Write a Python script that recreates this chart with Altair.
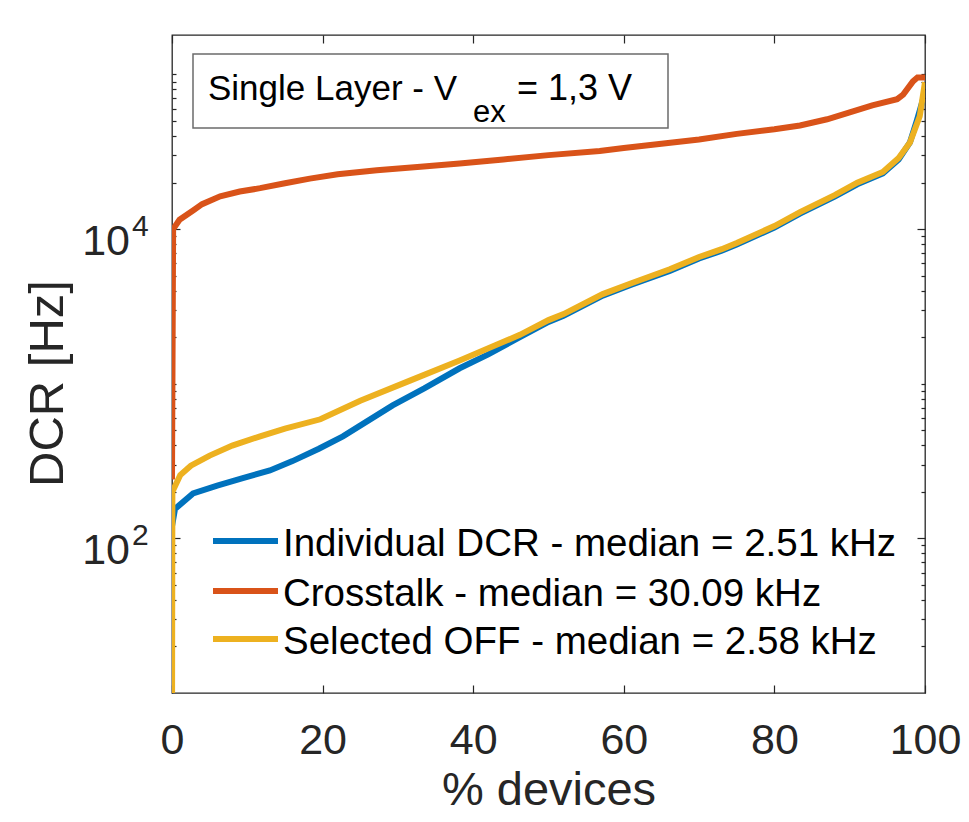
import altair as alt
import pandas as pd

FONT = "Liberation Sans"
AX = "#262626"

# ---- data ----
ind_pct = [0, 0.4, 2.8, 6, 9.4, 13, 16, 19.5, 22.7, 26, 29.3, 33.5, 38.2, 42, 46.2, 50, 52,
           57.2, 61, 66.1, 70, 73, 75, 80, 83.4, 88, 91, 94.4, 96.5, 98, 98.9, 99.5, 100]
ind_dcr = [120, 155, 195, 219, 245, 275, 316, 380, 457, 575, 724, 933, 1259, 1549, 2000, 2510, 2750,
           3715, 4365, 5370, 6457, 7244, 7943, 10230, 12590, 16220, 19500, 22900, 28180, 36310,
           50100, 63100, 75900]

xt_pct = [0, 0.15, 1, 2.8, 4, 6.4, 9, 11.7, 15, 18.3, 22, 27.2, 33, 38.2, 44, 50, 56.8, 60, 65,
          70, 75, 80, 83.4, 87, 90, 93, 96.3, 97.1, 98.4, 99, 100]
xt_dcr = [240, 10000, 11500, 13200, 14500, 16300, 17500, 18400, 19800, 21200, 22600, 24000, 25300,
          26600, 28200, 30090, 32000, 33500, 35600, 38000, 41300, 44200, 46800, 51300, 56900, 63100,
          69200, 74100, 90200, 95500, 95500]

sel_pct = [0, 0.05, 1.1, 2.5, 5, 8, 11.7, 15, 19.7, 25, 31.6, 38.2, 46.2, 50, 52, 57.2, 61, 66.1,
           70, 73, 75, 80, 83.4, 88, 91, 94.4, 96.5, 98, 99.3, 100]
sel_dcr = [5, 200, 257, 295, 343, 398, 457, 513, 589, 776, 1047, 1413, 2070, 2580, 2820, 3800, 4467,
           5495, 6607, 7413, 8128, 10470, 12880, 16600, 19950, 23440, 28840, 36310, 53700, 89100]

series_names = ["Individual DCR - median = 2.51 kHz",
                "Crosstalk - median = 30.09 kHz",
                "Selected OFF - median = 2.58 kHz"]
series_colors = ["#0072BD", "#D95319", "#EDB120"]

x_ticks = [0, 20, 40, 60, 80, 100]
y_major = [100, 10000]
y_major_base = ["10", "10"]
y_major_exp = ["2", "4"]
y_minor = [20, 30, 40, 50, 60, 70, 80, 90,
           200, 300, 400, 500, 600, 700, 800, 900, 1000,
           2000, 3000, 4000, 5000, 6000, 7000, 8000, 9000,
           20000, 30000, 40000, 50000, 60000, 70000, 80000, 90000, 100000]

box_text_main = "Single Layer - V"
box_text_sub = "ex"
box_text_rest = "= 1,3 V"

# ---- tables ----
frames = []
for name, xs, ys in zip(series_names, [ind_pct, xt_pct, sel_pct], [ind_dcr, xt_dcr, sel_dcr]):
    frames.append(pd.DataFrame({"series": name, "pct": xs, "dcr": ys}))
df_all = pd.concat(frames, ignore_index=True)
ytick_df = pd.DataFrame({"v": y_major, "b": y_major_base, "e": y_major_exp})
one = pd.DataFrame({"k": [0]})

xscale = alt.Scale(domain=[0, 100], nice=False, zero=False)
yscale = alt.Scale(type="log", domain=[10, 180000], nice=False)

common_tick = dict(domain=False, grid=False, tickColor=AX, tickWidth=1.2)

ax_bottom = alt.Axis(orient="bottom", values=x_ticks, tickSize=8, offset=-8, labelFontSize=43,
                     labelFont=FONT, labelColor=AX, labelPadding=26, labelFlush=False,
                     labelOverlap=False, title="% devices",
                     titleFont=FONT, titleFontSize=47, titleFontWeight="normal", titleColor=AX,
                     titleBaseline="alphabetic", titleY=119, **common_tick)
ax_top = alt.Axis(orient="top", values=x_ticks, tickSize=8, offset=-8, labels=False, title=None,
                  **common_tick)
ay_left = alt.Axis(orient="left", values=y_major, tickSize=8, offset=-8, labels=False,
                   title="DCR [Hz]", titleFont=FONT, titleFontSize=49, titleFontWeight="normal",
                   titleColor=AX, titleAngle=270, titleBaseline="alphabetic", titleAlign="center",
                   titleX=-118, titleY=348, **common_tick)
ay_left_minor = alt.Axis(orient="left", values=y_minor, tickSize=4, offset=-4, labels=False,
                         title=None, **common_tick)
ay_right = alt.Axis(orient="right", values=y_major, tickSize=8, offset=-8, labels=False,
                    title=None, **common_tick)
ay_right_minor = alt.Axis(orient="right", values=y_minor, tickSize=4, offset=-4, labels=False,
                          title=None, **common_tick)


def series_layer(i, xaxis, yaxis):
    d = df_all[df_all["series"] == series_names[i]]
    return alt.Chart(d).mark_line(clip=True, strokeWidth=6, color=series_colors[i]).encode(
        x=alt.X("pct:Q", scale=xscale, axis=xaxis),
        y=alt.Y("dcr:Q", scale=yscale, axis=yaxis),
    )


def ghost(xaxis, yaxis):
    return alt.Chart(df_all).mark_point(opacity=0, clip=True).encode(
        x=alt.X("pct:Q", scale=xscale, axis=xaxis),
        y=alt.Y("dcr:Q", scale=yscale, axis=yaxis),
    )


lines = [
    series_layer(0, ax_bottom, ay_left),
    series_layer(1, None, None),
    series_layer(2, None, None),
]
ghosts = [
    ghost(ax_top, ay_left_minor),
    ghost(None, ay_right),
    ghost(None, ay_right_minor),
]

ytick_base = alt.Chart(ytick_df).mark_text(align="right", baseline="alphabetic", fontSize=43,
                                           font=FONT, color=AX, dy=26).encode(
    x=alt.value(-42), y=alt.Y("v:Q", scale=yscale, axis=None), text="b:N")
ytick_exp = alt.Chart(ytick_df).mark_text(align="left", baseline="alphabetic", fontSize=30,
                                          font=FONT, color=AX, dy=7).encode(
    x=alt.value(-40), y=alt.Y("v:Q", scale=yscale, axis=None), text="e:N")

# annotation box
box = alt.Chart(one).mark_rect(fill="white", stroke="#6b6b6b", strokeWidth=1.5).encode(
    x=alt.value(21), x2=alt.value(496), y=alt.value(19), y2=alt.value(93))
box_t1 = alt.Chart(one).mark_text(text=box_text_main, align="left", baseline="alphabetic",
                                  fontSize=35, font=FONT, color="black").encode(
    x=alt.value(36), y=alt.value(65))
box_t2 = alt.Chart(one).mark_text(text=box_text_sub, align="left", baseline="alphabetic",
                                  fontSize=31, font=FONT, color="black").encode(
    x=alt.value(301), y=alt.value(87))
box_t3 = alt.Chart(one).mark_text(text=box_text_rest, align="left", baseline="alphabetic",
                                  fontSize=36, font=FONT, color="black").encode(
    x=alt.value(345), y=alt.value(65))

# manual legend
legend_rows_y = [506, 556, 604]
legend_layers = []
for name, col, yy in zip(series_names, series_colors, legend_rows_y):
    legend_layers.append(alt.Chart(one).mark_rule(color=col, strokeWidth=6).encode(
        x=alt.value(41), x2=alt.value(106), y=alt.value(yy)))
    legend_layers.append(alt.Chart(one).mark_text(text=name, align="left", baseline="alphabetic",
                                                  fontSize=38.5, font=FONT, color="black").encode(
        x=alt.value(111), y=alt.value(yy + 15)))

chart = alt.layer(
    *ghosts, *lines, ytick_base, ytick_exp, box, box_t1, box_t2, box_t3, *legend_layers
).resolve_axis(x="independent", y="independent").properties(
    width=753, height=658,
    autosize=alt.AutoSizeParams(type="none"),
    padding={"left": 164, "top": 27, "right": 36, "bottom": 121},
    background="white",
).configure_view(stroke=AX, strokeWidth=1.3)

chart.save("out.html", embed_options={"renderer": "svg", "actions": False})
